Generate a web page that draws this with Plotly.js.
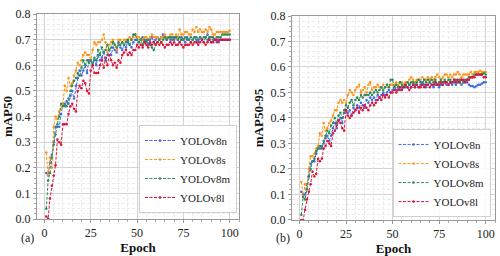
<!DOCTYPE html>
<html>
<head>
<meta charset="utf-8">
<script src="https://cdn.plot.ly/plotly-3.0.1.min.js"></script>
<style>html,body{margin:0;padding:0;background:#fff}#chart{width:500px;height:256px}</style>
</head>
<body>
<div id="chart"></div>
<script>
const seriesNames = ["YOLOv8n", "YOLOv8s", "YOLOv8m", "YOLOv8l"];
const seriesColors = ["#4169E1", "#FF9419", "#2E8B57", "#DC143C"];
const xTicks = [0, 25, 50, 75, 100];
const yTicks = [0.0, 0.1, 0.2, 0.3, 0.4, 0.5, 0.6, 0.7, 0.8];

const epochs = [];
for (let i = 1; i <= 100; i++) epochs.push(i);

// mAP50 (panel a)
const map50_n = [0.18,0.17,0.22,0.25,0.30,0.36,0.36,0.36,0.41,0.45,
0.44,0.46,0.45,0.48,0.50,0.47,0.52,0.55,0.58,0.56,
0.58,0.60,0.57,0.62,0.62,0.61,0.62,0.60,0.64,0.62,
0.63,0.65,0.62,0.64,0.66,0.64,0.67,0.66,0.65,0.68,
0.67,0.66,0.68,0.67,0.69,0.68,0.67,0.69,0.70,0.70,
0.69,0.70,0.71,0.69,0.70,0.68,0.70,0.71,0.69,0.70,
0.71,0.70,0.71,0.72,0.71,0.70,0.71,0.70,0.71,0.70,
0.71,0.70,0.69,0.71,0.70,0.69,0.71,0.70,0.69,0.70,
0.71,0.70,0.69,0.71,0.70,0.69,0.71,0.72,0.70,0.69,
0.70,0.70,0.69,0.70,0.70,0.70,0.70,0.70,0.70,0.70];
const map50_s = [0.26,0.17,0.24,0.20,0.36,0.40,0.39,0.42,0.43,0.45,
0.52,0.50,0.55,0.52,0.53,0.56,0.58,0.61,0.60,0.62,
0.64,0.65,0.64,0.64,0.62,0.66,0.69,0.68,0.69,0.69,
0.70,0.72,0.69,0.65,0.68,0.69,0.70,0.68,0.66,0.70,
0.70,0.69,0.70,0.70,0.70,0.71,0.70,0.71,0.72,0.71,
0.71,0.70,0.70,0.71,0.71,0.70,0.71,0.72,0.71,0.71,
0.71,0.70,0.71,0.71,0.72,0.71,0.71,0.72,0.72,0.71,
0.72,0.71,0.74,0.72,0.72,0.73,0.73,0.72,0.72,0.74,
0.73,0.75,0.73,0.74,0.73,0.73,0.74,0.73,0.75,0.74,
0.72,0.72,0.73,0.73,0.73,0.73,0.73,0.73,0.73,0.735];
const map50_m = [0.04,0.15,0.18,0.24,0.29,0.33,0.37,0.40,0.45,0.44,
0.45,0.44,0.47,0.50,0.52,0.54,0.55,0.57,0.56,0.59,
0.62,0.60,0.62,0.61,0.62,0.60,0.63,0.62,0.66,0.64,
0.67,0.65,0.66,0.68,0.66,0.67,0.69,0.68,0.67,0.69,
0.68,0.69,0.68,0.69,0.70,0.68,0.70,0.72,0.72,0.70,
0.69,0.70,0.68,0.70,0.69,0.70,0.68,0.67,0.66,0.68,
0.69,0.70,0.69,0.70,0.71,0.70,0.71,0.71,0.70,0.71,
0.71,0.70,0.71,0.70,0.70,0.71,0.70,0.70,0.71,0.70,
0.71,0.71,0.70,0.71,0.70,0.71,0.71,0.70,0.71,0.71,
0.71,0.70,0.71,0.71,0.71,0.72,0.72,0.72,0.72,0.72];
const map50_l = [0.01,0.00,0.08,0.13,0.17,0.21,0.31,0.30,0.29,0.37,
0.37,0.37,0.41,0.44,0.45,0.43,0.42,0.50,0.52,0.51,
0.54,0.53,0.50,0.49,0.58,0.60,0.57,0.57,0.57,0.60,
0.62,0.59,0.63,0.60,0.64,0.62,0.60,0.61,0.59,0.62,
0.61,0.64,0.65,0.66,0.64,0.65,0.64,0.66,0.66,0.68,
0.67,0.68,0.67,0.69,0.68,0.67,0.69,0.68,0.69,0.68,
0.69,0.68,0.69,0.68,0.67,0.68,0.68,0.69,0.68,0.69,
0.68,0.68,0.69,0.68,0.67,0.68,0.68,0.68,0.69,0.68,
0.69,0.69,0.68,0.69,0.70,0.69,0.68,0.69,0.70,0.69,
0.69,0.70,0.70,0.69,0.70,0.70,0.70,0.70,0.70,0.70];

// mAP50-95 (panel b)
const map5095_n = [0.11,0.10,0.10,0.14,0.17,0.22,0.23,0.23,0.26,0.28,
0.28,0.29,0.30,0.32,0.33,0.31,0.33,0.36,0.38,0.36,
0.39,0.40,0.38,0.42,0.43,0.42,0.43,0.41,0.44,0.43,
0.45,0.44,0.46,0.45,0.44,0.47,0.46,0.48,0.47,0.48,
0.47,0.49,0.48,0.49,0.50,0.49,0.50,0.51,0.50,0.51,
0.52,0.51,0.52,0.51,0.52,0.53,0.52,0.52,0.53,0.52,
0.53,0.52,0.53,0.52,0.53,0.54,0.53,0.52,0.53,0.54,
0.53,0.52,0.53,0.53,0.52,0.53,0.53,0.54,0.53,0.53,
0.54,0.53,0.54,0.53,0.54,0.54,0.53,0.54,0.54,0.54,
0.53,0.525,0.525,0.52,0.525,0.53,0.53,0.535,0.54,0.54];
const map5095_s = [0.15,0.09,0.14,0.12,0.20,0.25,0.25,0.26,0.28,0.29,
0.34,0.33,0.38,0.35,0.36,0.38,0.39,0.41,0.43,0.43,
0.46,0.47,0.46,0.47,0.46,0.49,0.51,0.50,0.49,0.51,
0.52,0.53,0.50,0.51,0.52,0.50,0.53,0.54,0.51,0.52,
0.52,0.53,0.52,0.52,0.53,0.52,0.53,0.52,0.53,0.53,
0.53,0.54,0.53,0.54,0.54,0.53,0.54,0.54,0.55,0.56,
0.55,0.54,0.55,0.55,0.55,0.56,0.55,0.55,0.56,0.55,
0.56,0.55,0.56,0.57,0.56,0.55,0.56,0.57,0.57,0.56,
0.57,0.56,0.57,0.57,0.58,0.57,0.56,0.57,0.57,0.57,
0.57,0.58,0.57,0.58,0.58,0.58,0.585,0.58,0.58,0.58];
const map5095_m = [0.02,0.09,0.08,0.12,0.17,0.20,0.23,0.24,0.27,0.28,
0.29,0.28,0.31,0.33,0.35,0.34,0.37,0.38,0.40,0.38,
0.41,0.42,0.40,0.43,0.45,0.44,0.46,0.47,0.45,0.47,
0.48,0.47,0.49,0.48,0.49,0.49,0.49,0.50,0.49,0.50,
0.51,0.50,0.51,0.52,0.51,0.52,0.53,0.52,0.55,0.55,
0.52,0.53,0.52,0.54,0.53,0.52,0.53,0.54,0.53,0.54,
0.54,0.53,0.54,0.55,0.54,0.53,0.55,0.54,0.55,0.54,
0.55,0.54,0.55,0.53,0.54,0.55,0.54,0.55,0.54,0.55,
0.55,0.54,0.55,0.55,0.54,0.55,0.55,0.54,0.55,0.55,
0.56,0.56,0.56,0.57,0.57,0.57,0.57,0.57,0.575,0.57];
const map5095_l = [0.00,0.00,0.04,0.08,0.11,0.14,0.19,0.17,0.18,0.24,
0.23,0.24,0.28,0.29,0.31,0.30,0.29,0.34,0.35,0.37,
0.39,0.38,0.36,0.35,0.43,0.41,0.40,0.41,0.42,0.43,
0.44,0.42,0.44,0.43,0.45,0.44,0.43,0.45,0.46,0.45,
0.46,0.47,0.48,0.47,0.49,0.48,0.49,0.48,0.50,0.50,
0.51,0.50,0.51,0.52,0.51,0.52,0.53,0.52,0.51,0.52,
0.53,0.52,0.53,0.52,0.52,0.53,0.52,0.53,0.53,0.52,
0.53,0.53,0.54,0.53,0.53,0.54,0.53,0.54,0.54,0.53,
0.54,0.54,0.55,0.54,0.55,0.54,0.55,0.55,0.54,0.55,
0.55,0.56,0.56,0.56,0.57,0.57,0.57,0.57,0.56,0.56];

const panelA = [map50_n, map50_s, map50_m, map50_l];
const panelB = [map5095_n, map5095_s, map5095_m, map5095_l];

const FONT = "'Liberation Serif', 'Times New Roman', serif";
const traces = [];
function addPanel(data, xa, ya, legendId) {
  data.forEach((ys, i) => {
    traces.push({
      x: epochs, y: ys, xaxis: xa, yaxis: ya, legend: legendId,
      type: "scatter", mode: "lines+markers", name: seriesNames[i],
      line: {color: seriesColors[i], width: 1, dash: "3px,1.5px"},
      marker: {color: seriesColors[i], size: 2.5},
      showlegend: true
    });
  });
}
addPanel(panelA, "x", "y", "legend");
addPanel(panelB, "x2", "y2", "legend2");

function xAxis(domain, anchor) {
  return {
    domain: domain, anchor: anchor, range: [-4, 105],
    tickvals: xTicks, ticktext: xTicks.map(String),
    showgrid: true, gridcolor: "#d4d4d4", gridwidth: 1,
    showline: true, mirror: true, linecolor: "#999", linewidth: 1,
    ticks: "outside", ticklen: 3, tickcolor: "#999",
    tickfont: {family: FONT, size: 12, color: "#222"},
    zeroline: false,
    minor: {dtick: 5, tick0: 0, showgrid: true, gridcolor: "#ececec", griddash: "3px,2px", gridwidth: 1, ticks: "outside", ticklen: 2, tickcolor: "#aaa"},
    title: {text: "<b>Epoch</b>", font: {family: FONT, size: 13, color: "#111"}, standoff: 2}
  };
}
function yAxis(domain, anchor, label) {
  return {
    domain: domain, anchor: anchor, range: [0, 0.8],
    tickvals: yTicks, ticktext: yTicks.map(v => v.toFixed(1)),
    showgrid: true, gridcolor: "#d4d4d4", gridwidth: 1,
    showline: true, mirror: true, linecolor: "#999", linewidth: 1,
    ticks: "outside", ticklen: 3, tickcolor: "#999",
    tickfont: {family: FONT, size: 12, color: "#222"},
    zeroline: false,
    minor: {dtick: 0.02, tick0: 0, showgrid: true, gridcolor: "#ececec", griddash: "3px,2px", gridwidth: 1, ticks: "outside", ticklen: 2, tickcolor: "#aaa"},
    title: {text: "<b>" + label + "</b>", font: {family: FONT, size: 13, color: "#111"}, standoff: 4}
  };
}

const legendStyle = (x, y) => ({
  x: x, y: y, xanchor: "right", yanchor: "bottom",
  bgcolor: "rgba(255,255,255,0.9)", bordercolor: "#d0d0d0", borderwidth: 1,
  font: {family: FONT, size: 11, color: "#222"},
  itemwidth: 30, tracegroupgap: 0
});

const layout = {
  width: 500, height: 256,
  margin: {l: 0, r: 0, t: 0, b: 0},
  paper_bgcolor: "#fff", plot_bgcolor: "#fff",
  showlegend: true,
  xaxis: xAxis([0.074, 0.478], "y"),
  yaxis: yAxis([0.1445, 0.945], "x", "mAP50"),
  xaxis2: xAxis([0.584, 0.99], "y2"),
  yaxis2: yAxis([0.141, 0.9375], "x2", "mAP50-95"),
  legend: legendStyle(0.474, 0.168),
  legend2: legendStyle(0.981, 0.152),
  annotations: [
    {text: "(a)", xref: "paper", yref: "paper", x: 0.054, y: 0.07, xanchor: "center", yanchor: "middle", showarrow: false, font: {family: FONT, size: 12, color: "#222"}},
    {text: "(b)", xref: "paper", yref: "paper", x: 0.566, y: 0.07, xanchor: "center", yanchor: "middle", showarrow: false, font: {family: FONT, size: 12, color: "#222"}}
  ]
};

Plotly.newPlot("chart", traces, layout, {staticPlot: true, displayModeBar: false});
</script>
</body>
</html>
